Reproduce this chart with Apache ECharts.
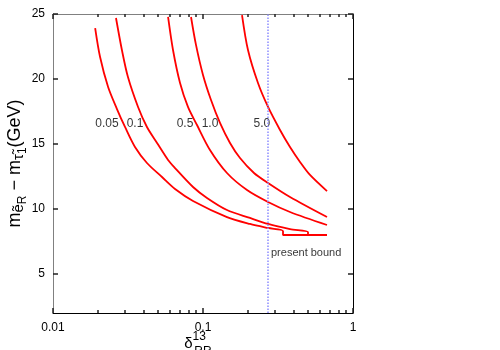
<!DOCTYPE html>
<html>
<head>
<meta charset="utf-8">
<script src="https://cdn.jsdelivr.net/npm/echarts@6/dist/echarts.min.js"></script>
<style>
  html, body { margin: 0; padding: 0; background: #fff; }
  #chart { width: 500px; height: 350px; }
</style>
</head>
<body>
<div id="chart"></div>
<script>
// 曲线数据: delta_RR^13 -> 质量差 (GeV)
var deltaA = [0.0191, 0.0206, 0.0233, 0.0267, 0.0302, 0.0352, 0.0423, 0.0533, 0.0651, 0.0858, 0.1445, 0.2057, 0.2714, 0.3415, 0.3415, 0.6709];
var massA  = [23.92, 21.69, 19.38, 17.69, 16.31, 14.77, 13.54, 12.46, 11.54, 10.62, 9.38, 8.85, 8.54, 8.31, 8.0, 8.0];

var deltaB = [0.0263, 0.0288, 0.0316, 0.0369, 0.0423, 0.0494, 0.0585, 0.0651, 0.0858, 0.1063, 0.1445, 0.2057, 0.2714, 0.3802, 0.5012, 0.5012, 0.6709];
var massB  = [24.69, 22.23, 20.15, 17.85, 16.31, 15.08, 13.77, 13.15, 11.69, 10.85, 9.92, 9.31, 8.85, 8.46, 8.23, 8.0, 8.0];

var deltaC = [0.0585, 0.0631, 0.0703, 0.0794, 0.0912, 0.1113, 0.1445, 0.1965, 0.2714, 0.3802, 0.6709];
var massC  = [24.77, 22.23, 19.69, 17.85, 16.46, 14.54, 12.77, 11.46, 10.54, 9.77, 8.77];

var deltaD = [0.0832, 0.0898, 0.1, 0.1131, 0.1298, 0.1514, 0.1765, 0.2188, 0.2714, 0.3802, 0.6709];
var massD  = [24.77, 22.62, 20.31, 18.38, 16.62, 15.08, 13.92, 12.77, 12.0, 10.92, 9.38];

var deltaE = [0.182, 0.1995, 0.2326, 0.2714, 0.3262, 0.3802, 0.4434, 0.5168, 0.6709];
var massE  = [24.92, 22.23, 19.69, 17.85, 16.08, 14.77, 13.62, 12.62, 11.38];

// 曲线标注
var labelText = ['0.05', '0.1', '0.5', '1.0', '5.0'];
var labelX = [0.0229, 0.0352, 0.0759, 0.1113, 0.247];
var labelY = [16.6, 16.6, 16.6, 16.6, 16.6];

// 当前上限
var boundX = 0.27;
var boundText = 'present bound';
var boundTextX = 0.284;
var boundTextY = 6.6;

// 刻度
var xMinorTicks = [0.02, 0.03, 0.04, 0.05, 0.06, 0.07, 0.08, 0.09, 0.2, 0.3, 0.4, 0.5, 0.6, 0.7, 0.8, 0.9];
var yTicks = [5, 10, 15, 20, 25];

function pairs(xs, ys) {
  return xs.map(function (x, i) { return [x, ys[i]]; });
}

var curves = [
  pairs(deltaA, massA),
  pairs(deltaB, massB),
  pairs(deltaC, massC),
  pairs(deltaD, massD),
  pairs(deltaE, massE)
];

var chart = echarts.init(document.getElementById('chart'));

var font = '"Liberation Sans", Arial, sans-serif';
var grayLine = '#808080';
// 刻度线 (宽度 1 时不显示, 用 1.5)
var tickStyle = { color: '#222', width: 1.5 };

function xAxisCfg(position, minor, lineColor) {
  return {
    type: 'log',
    logBase: 10,
    min: 0.01,
    max: 1,
    position: position,
    gridIndex: 0,
    axisLine: { show: !minor, onZero: false, lineStyle: { color: lineColor, width: 1 } },
    axisTick: minor
      ? { show: true, inside: true, length: 3, customValues: xMinorTicks, lineStyle: tickStyle }
      : { show: true, inside: true, length: 5, lineStyle: tickStyle },
    axisLabel: {
      show: !minor && position === 'bottom',
      color: '#000',
      fontSize: 12,
      fontFamily: font,
      margin: 9,
      formatter: function (v) { return String(+v.toPrecision(3)); }
    },
    splitLine: { show: false },
    minorTick: { show: false }
  };
}

var xAxes = [
  xAxisCfg('bottom', false, '#000'),
  xAxisCfg('bottom', true, '#000'),
  xAxisCfg('top', false, grayLine),
  xAxisCfg('top', true, grayLine)
];

// x 轴名称
xAxes[0].name = '{d|δ}{sup|13}';
xAxes[0].nameLocation = 'middle';
xAxes[0].nameGap = 18;
xAxes[0].nameMoveOverlap = false;
xAxes[0].nameTextStyle = {
  color: '#000',
  fontFamily: font,
  padding: [0, 16, 0, 0],
  rich: {
    d: { fontSize: 15, fontFamily: font, color: '#000' },
    sup: { fontSize: 12, fontFamily: font, color: '#000', padding: [0, 0, 14, 0] }
  }
};
xAxes[1].name = 'RR';
xAxes[1].nameLocation = 'middle';
xAxes[1].nameGap = 33;
xAxes[1].nameMoveOverlap = false;
xAxes[1].nameTextStyle = { color: '#000', fontFamily: font, fontSize: 12 };

function yAxisCfg(position, lineColor) {
  return {
    type: 'value',
    min: 2,
    max: 25,
    position: position,
    gridIndex: 0,
    axisLine: { show: true, onZero: false, lineStyle: { color: lineColor, width: 1 } },
    axisTick: { show: true, inside: true, length: 5, customValues: yTicks, lineStyle: tickStyle },
    axisLabel: {
      show: position === 'left',
      customValues: yTicks,
      color: '#000',
      fontSize: 12,
      fontFamily: font,
      margin: 8
    },
    splitLine: { show: false }
  };
}

var yAxes = [yAxisCfg('left', grayLine), yAxisCfg('right', '#000')];
yAxes[0].name = '{m|m}{s|ẽ}{ss|R}{m| − m}{s|τ̃}{ss|1}{m|(GeV)}';
yAxes[0].nameLocation = 'middle';
yAxes[0].nameGap = 24;
yAxes[0].nameMoveOverlap = false;
yAxes[0].nameTextStyle = {
  color: '#000',
  fontFamily: font,
  rich: {
    m: { fontSize: 18, fontFamily: font, color: '#000' },
    s: { fontSize: 15, fontFamily: font, color: '#000', padding: [8, 0, 0, 0] },
    ss: { fontSize: 12, fontFamily: font, color: '#000', padding: [16, 0, 0, 0] }
  }
};

var series = curves.map(function (data, i) {
  return {
    name: labelText[i],
    type: 'line',
    xAxisIndex: 0,
    yAxisIndex: 0,
    data: data,
    showSymbol: false,
    symbol: 'none',
    smooth: 0.3,
    lineStyle: { color: '#ff0000', width: 1.8 },
    z: 3
  };
});

// 曲线标签
series.push({
  type: 'scatter',
  xAxisIndex: 0,
  yAxisIndex: 0,
  symbolSize: 0,
  data: labelText.map(function (t, i) { return { name: t, value: [labelX[i], labelY[i]] }; }),
  label: {
    show: true,
    position: 'inside',
    formatter: '{b}',
    color: '#000',
    fontSize: 12,
    fontFamily: font
  },
  z: 4
});

// present bound 竖线
series.push({
  type: 'scatter',
  xAxisIndex: 0,
  yAxisIndex: 0,
  symbolSize: 0,
  data: [{ name: boundText, value: [boundTextX, boundTextY] }],
  label: {
    show: true,
    position: 'right',
    distance: 0,
    formatter: '{b}',
    color: '#000',
    fontSize: 11,
    fontFamily: font
  },
  markLine: {
    silent: true,
    symbol: ['none', 'none'],
    label: { show: false },
    lineStyle: { color: '#8c8cff', type: 'dotted', width: 1.5 },
    data: [{ xAxis: boundX }]
  },
  z: 2
});

var option = {
  animation: false,
  backgroundColor: '#fff',
  grid: { left: 53, right: 147, top: 14, bottom: 37, containLabel: false, outerBoundsMode: 'none' },
  xAxis: xAxes,
  yAxis: yAxes,
  series: series
};

chart.setOption(option);
</script>
</body>
</html>
